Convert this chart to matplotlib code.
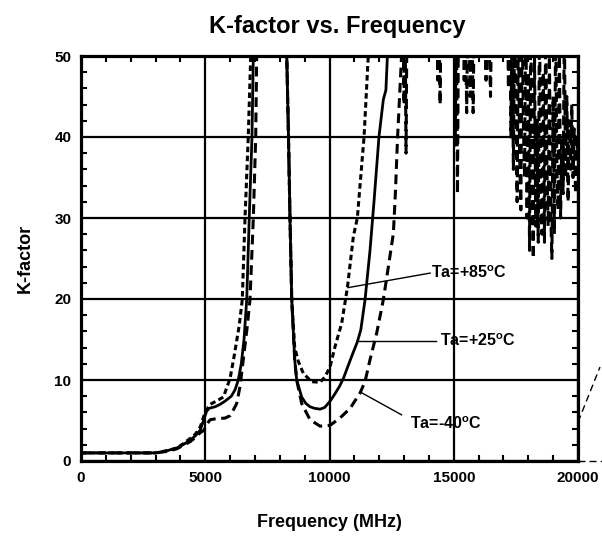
import matplotlib
matplotlib.use("Agg")
import matplotlib.pyplot as plt
from matplotlib.ticker import MultipleLocator

plt.rcParams['font.family'] = ['Liberation Sans', 'DejaVu Sans']
plt.rcParams['font.weight'] = 'bold'
plt.rcParams['mathtext.fontset'] = 'custom'
plt.rcParams['mathtext.rm'] = 'Liberation Sans:bold'
plt.rcParams['mathtext.bf'] = 'Liberation Sans:bold'
plt.rcParams['lines.scale_dashes'] = False

# ---------------- data ----------------
f25 = [0, 1000, 2000, 3000, 3200, 3500, 3850, 4100, 4400, 4600, 4800, 4950, 5050, 5150,
       5400, 5600, 5800, 6050, 6200, 6330, 6450, 6560, 6670, 6770, 6880, 6935, 7000,
       8200, 8280, 8350, 8410, 8480, 8600, 8680, 8880, 9050, 9215, 9400, 9620, 9800,
       9890, 10050, 10220, 10400, 10560, 10730, 10890, 11120, 11260, 11430, 11630,
       11790, 11990, 12165, 12270, 12330, 12400]
k25 = [1.0, 1.0, 1.0, 1.0, 1.1, 1.3, 1.6, 2.0, 2.6, 3.1, 3.8, 5.2, 6.1, 6.5,
       6.7, 7.0, 7.4, 8.0, 8.8, 10.0, 12.0, 15.0, 20.0, 30.0, 40.0, 50.0, 80,
       80, 50.0, 40.0, 30.0, 20.0, 12.5, 10.0, 7.9, 7.1, 6.7, 6.5, 6.4, 6.6,
       6.9, 7.5, 8.3, 9.2, 10.2, 11.6, 12.9, 14.7, 16.2, 19.9, 26.0,
       32.0, 40.0, 44.6, 45.8, 50.0, 80]

f85 = [0, 1000, 2000, 3000, 3500, 3850, 4100, 4400, 4600, 4800, 4950, 5050, 5200,
       5450, 5730, 6000, 6160, 6360, 6490, 6600, 6730, 6830, 6900,
       8200, 8280, 8350, 8410, 8480, 8600, 8745, 8950, 9280, 9620, 9820, 10020,
       10220, 10490, 10720, 10960, 11120, 11390, 11560, 11650]
k85 = [1.0, 1.0, 1.0, 1.0, 1.3, 1.6, 2.1, 2.8, 3.3, 4.2, 5.6, 6.3, 7.0,
       7.4, 7.9, 10.2, 12.9, 16.6, 19.9, 30.0, 40.0, 50.0, 80,
       80, 50, 40, 30, 20, 14, 12.3, 10.8, 9.8, 9.7, 10.4, 11.6,
       14.1, 17.0, 21.4, 27.7, 30.0, 40.0, 50.0, 80]

f40 = [0, 1000, 2000, 3000, 3500, 3850, 4100, 4400, 4600, 4800, 4950, 5050, 5200,
       5400, 5800, 6000, 6130, 6265, 6400, 6530, 6690, 6800, 6935, 7030, 7070, 7150,
       8200, 8280, 8350, 8410, 8480, 8600, 8680, 8880, 9215, 9620, 10020, 10420,
       10830, 11230, 11430, 11630, 11900, 12165, 12370, 12570, 12650, 12740, 12900,
       12960, 13000, 13030, 13080, 13130, 14300, 14360, 14400, 14450, 14500,
       15000, 15060, 15100, 15150, 15200, 15400, 15420, 15460, 15520, 15580,
       15660, 15720, 15780, 15840, 16250, 16300, 16350, 16480, 16540,
       17150, 17200, 17250, 17300, 17350, 17400, 17450, 17500, 17550, 17600,
       17650, 17700, 17750, 17800, 17850, 17900, 17950, 18000, 18050, 18100,
       18150, 18200, 18250, 18300, 18350, 18400, 18450, 18500, 18550, 18600,
       18650, 18700, 18750, 18800, 18850, 18900, 18950, 19000, 19050, 19100,
       19150, 19200, 19250, 19300, 19350, 19400, 19450, 19500, 19550, 19600,
       19650, 19700, 19750, 19800, 19850, 19900, 19950, 20000]
k40 = [1.0, 1.0, 1.0, 1.0, 1.2, 1.5, 1.9, 2.4, 2.9, 3.5, 3.8, 4.5, 5.1,
       5.2, 5.3, 5.6, 6.3, 7.1, 9.2, 12.5, 16.6, 19.9, 30, 40, 50, 80,
       80, 50, 40, 30, 20, 12.5, 10.0, 7.1, 5.1, 4.3, 4.4, 5.3,
       6.5, 8.4, 9.8, 12.5, 15.8, 19.9, 24.0, 28.1, 33.0, 40.0, 50.0,
       62, 44, 60, 38, 60, 60, 47, 60, 44, 60,
       60, 39, 58, 33, 60, 60, 47, 58, 43, 60,
       45, 58, 43, 60, 60, 47, 60, 45, 60,
       60, 46, 58, 40, 55, 36, 56, 45, 32, 55,
       38, 31, 56, 42, 35, 58, 30, 48, 26, 55,
       35, 25, 50, 29, 42, 27, 56, 33, 28, 48,
       27, 55, 36, 29, 50, 31, 25, 45, 28, 55,
       36, 31, 52, 30, 40, 33, 54, 35, 45, 32,
       42, 36, 44, 35, 41, 33, 40, 38]

# stray trace drawn past the right edge of the plot
f_out = [20000, 20885]
k_out = [4.8, 11.6]
f_out0 = [20000, 21000]
k_out0 = [0, 0]

labels = ["Ta=+85$^{\\mathbf{o}}$C", "Ta=+25$^{\\mathbf{o}}$C", "Ta=-40$^{\\mathbf{o}}$C"]
label_xy = [(14100, 23.2), (14450, 14.8), (13250, 4.6)]
arrow_xy = [(10740, 21.4), (11170, 14.8), (11250, 8.5)]
label_start = [(14050, 23.2), (14300, 14.8), (12900, 5.7)]

# ---------------- plot ----------------
fig = plt.figure(figsize=(6.02, 5.38), dpi=100)
ax = fig.add_axes([81/602, 77/538, 497/602, 405/538])

ax.plot(f85, k85, color='black', lw=2.2, dashes=(4, 2.5), solid_capstyle='butt')
ax.plot(f25, k25, color='black', lw=2.0)
ax.plot(f40, k40, color='black', lw=2.2, dashes=(7, 4))
ax.plot(f_out, k_out, color='black', lw=1.0, dashes=(5, 3), clip_on=False)
ax.plot(f_out0, k_out0, color='black', lw=1.0, dashes=(5, 3), clip_on=False)

for lab, lxy, axy, sxy in zip(labels, label_xy, arrow_xy, label_start):
    ax.plot([axy[0], sxy[0]], [axy[1], sxy[1]], color='black', lw=1.0)
    ax.text(lxy[0], lxy[1], lab, fontsize=11.5, fontweight='bold', ha='left', va='center')

ax.set_xlim(0, 20000)
ax.set_ylim(0, 50)
ax.xaxis.set_major_locator(MultipleLocator(5000))
ax.xaxis.set_minor_locator(MultipleLocator(1000))
ax.yaxis.set_major_locator(MultipleLocator(10))
ax.yaxis.set_minor_locator(MultipleLocator(2))
ax.grid(True, which='major', color='black', lw=1.6)
ax.tick_params(which='both', direction='in', top=True, right=True, labelsize=11)
ax.tick_params(which='major', length=0, pad=7)
ax.tick_params(which='minor', length=4, width=1.5)
for lab in ax.get_xticklabels() + ax.get_yticklabels():
    lab.set_fontweight('bold')
for sp in ax.spines.values():
    sp.set_linewidth(2.3)
    sp.set_zorder(5)

ax.set_xlabel("Frequency (MHz)", fontsize=13, fontweight='bold')
ax.xaxis.set_label_coords(0.5, -0.132)
ax.set_ylabel("K-factor", fontsize=13, fontweight='bold')
ax.yaxis.set_label_coords(-0.095, 0.5)
fig.text(337/602, 1 - 26/538, "K-factor vs. Frequency", fontsize=17, fontweight='bold',
         ha='center', va='center')

fig.savefig("out.png", dpi=100)
